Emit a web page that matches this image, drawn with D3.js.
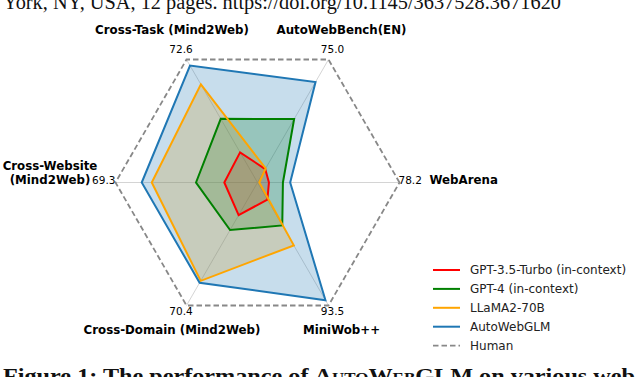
<!DOCTYPE html>
<html>
<head>
<meta charset="utf-8">
<script src="https://cdn.jsdelivr.net/npm/d3@7"></script>
<style>
  html, body { margin: 0; padding: 0; background: #fff; }
  svg { display: block; }
  .tick { font-family: "DejaVu Sans", sans-serif; font-size: 10.5px; fill: #000; }
  .axlab { font-family: "DejaVu Sans", sans-serif; font-size: 11.8px; font-weight: bold; fill: #000; }
  .leg { font-family: "DejaVu Sans", sans-serif; font-size: 12px; fill: #222; }
  .paper { font-family: "Liberation Serif", "DejaVu Serif", serif; fill: #111; }
</style>
</head>
<body>
<div id="chart"></div>
<script>
// --- data ---
const axes = ["WebArena", "AutoWebBench(EN)", "Cross-Task (Mind2Web)", "Cross-Website\n(Mind2Web)", "Cross-Domain (Mind2Web)", "MiniWob++"];
const human = [78.2, 75.0, 72.6, 69.3, 70.4, 93.5];
const gpt35 = [6.3, 8.2, 17.8, 16.2, 18.7, 13.0];
const gpt4 = [14.0, 38.7, 37.6, 30.0, 27.2, 32.6];
const llama = [1.0, 8.6, 57.9, 51.6, 56.3, 47.8];
const autoweb = [18.0, 61.3, 69.0, 56.5, 57.4, 89.5];
const seriesNames = ["GPT-3.5-Turbo (in-context)", "GPT-4 (in-context)", "LLaMA2-70B", "AutoWebGLM"];
const seriesColors = ["#ff0000", "#008000", "#ffa500", "#1f77b4"];

const W = 640, H = 377;
const cx = 257.5, cy = 182.5, R = 142;

const svg = d3.select("#chart").append("svg")
  .attr("width", W).attr("height", H);

// paper text around the figure (cropped)
svg.append("text").attr("class", "paper")
  .attr("x", 3).attr("y", 9)
  .attr("font-size", 20)
  .attr("textLength", 558).attr("lengthAdjust", "spacingAndGlyphs")
  .text("York, NY, USA, 12 pages. https://doi.org/10.1145/3637528.3671620");

const cap = svg.append("text").attr("class", "paper")
  .attr("x", 3).attr("y", 382.5)
  .attr("font-size", 20).attr("font-weight", "bold")
  .attr("textLength", 632).attr("lengthAdjust", "spacingAndGlyphs");
cap.append("tspan").text("Figure 1: The performance of ");
cap.append("tspan").style("font-variant", "small-caps").text("AutoWebGLM");
cap.append("tspan").text(" on various web");

// --- radar ---
const n = axes.length;
const angle = (i) => Math.PI / 2 - i * 2 * Math.PI / n;   // d3 radial angle (0 = up, clockwise)
const r = d3.scaleLinear().domain([0, 1]).range([0, R]);
const pt = (i, rad) => [cx + rad * Math.sin(angle(i)), cy - rad * Math.cos(angle(i))];

const g = svg.append("g").attr("transform", `translate(${cx},${cy})`);

// spokes
g.append("g").selectAll("line")
  .data(axes)
  .join("line")
  .attr("x1", 0).attr("y1", 0)
  .attr("x2", (d, i) => r(1) * Math.sin(angle(i)))
  .attr("y2", (d, i) => -r(1) * Math.cos(angle(i)))
  .attr("stroke", "#cfcfcf")
  .attr("stroke-width", 0.9);

const radial = d3.lineRadial()
  .angle((d, i) => angle(i))
  .radius((d) => r(d))
  .curve(d3.curveLinearClosed);

const norm = (vals) => vals.map((v, i) => v / human[i]);
const series = [gpt35, gpt4, llama, autoweb];

// fills first, outlines on top
series.forEach((vals, k) => {
  g.append("path").attr("d", radial(norm(vals)))
    .attr("fill", seriesColors[k]).attr("fill-opacity", 0.25).attr("stroke", "none");
});
series.forEach((vals, k) => {
  g.append("path").attr("d", radial(norm(vals)))
    .attr("fill", "none").attr("stroke", seriesColors[k])
    .attr("stroke-width", 2).attr("stroke-linejoin", "miter");
});

// human reference
g.append("path").attr("d", radial(norm(human)))
  .attr("fill", "none").attr("stroke", "#888")
  .attr("stroke-width", 1.8).attr("stroke-dasharray", "5.5,3");

// value labels at each vertex
human.forEach((v, i) => {
  const [x, y] = pt(i, r(1));
  const c = Math.cos(i * 2 * Math.PI / n), s = Math.sin(i * 2 * Math.PI / n);
  const t = svg.append("text").attr("class", "tick")
    .attr("dominant-baseline", "central")
    .text(v.toFixed(1));
  if (Math.abs(s) < 0.01) {
    t.attr("x", c > 0 ? x - 1 : x).attr("y", y - 2.5)
      .attr("text-anchor", c > 0 ? "start" : "end");
  } else {
    t.attr("x", x + (c > 0 ? 4 : -5.5)).attr("y", s > 0 ? y - 11 : y + 6)
      .attr("text-anchor", "middle");
  }
});

// axis labels
axes.forEach((name, i) => {
  const c = Math.cos(i * 2 * Math.PI / n), s = Math.sin(i * 2 * Math.PI / n);
  const lines = name.split("\n");
  const t = svg.append("text").attr("class", "axlab").attr("dominant-baseline", "central");
  let x, y, anchor;
  if (Math.abs(s) < 0.01 && c > 0) {
    [x, y] = pt(i, 172); y -= 2.5; anchor = "start";
  } else if (Math.abs(s) < 0.01) {
    [x, y] = pt(i, 207.5); y -= 16.5; anchor = "middle";
  } else {
    [x, y] = pt(i, 172);
    x += c > 0 ? -2 : 0.5;
    y += s > 0 ? -4 : -1.5;
    anchor = "middle";
  }
  t.attr("text-anchor", anchor);
  lines.forEach((ln, j) => {
    t.append("tspan").attr("x", x).attr("y", y + j * 13.5).text(ln);
  });
});

// legend
const legNames = seriesNames.concat(["Human"]);
const legColors = seriesColors.concat(["#888"]);
const leg = svg.append("g").attr("transform", "translate(433,270)");
legNames.forEach((name, i) => {
  const row = leg.append("g").attr("transform", `translate(0,${i * 18.9})`);
  row.append("line").attr("x1", 0).attr("x2", 27).attr("y1", 0).attr("y2", 0)
    .attr("stroke", legColors[i]).attr("stroke-width", name === "Human" ? 1.8 : 2)
    .attr("stroke-dasharray", name === "Human" ? "5.5,3" : null);
  row.append("text").attr("class", "leg")
    .attr("x", 37).attr("y", 0).attr("dominant-baseline", "central")
    .text(name);
});
</script>
</body>
</html>
